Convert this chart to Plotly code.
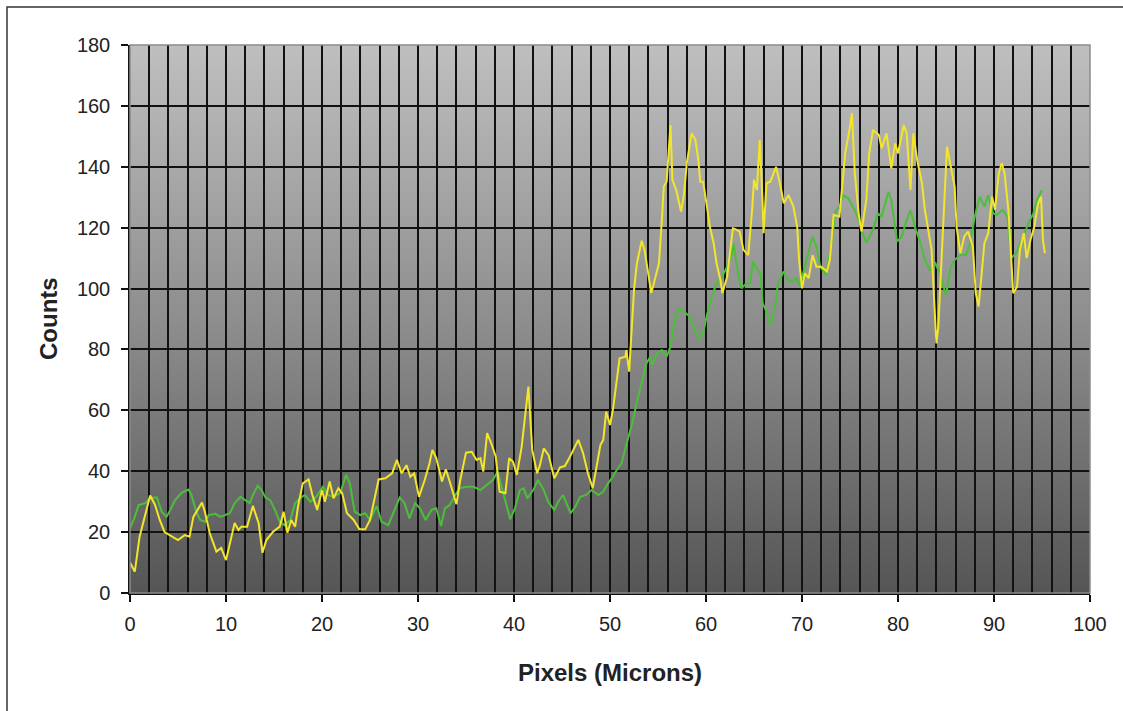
import base64
import plotly.graph_objects as go

# ---------------- data ----------------
yellow_x = [0.0, 0.5, 1.0, 1.6, 2.1, 2.6, 3.1, 3.6, 4.5, 5.0, 5.7, 6.2, 6.6, 7.5, 7.8, 8.3, 9.0, 9.5, 10.0,
            10.4, 10.9, 11.3, 11.6, 12.2, 12.8, 13.4, 13.8, 14.2, 14.9, 15.6, 16.0, 16.4, 16.8, 17.2, 17.5,
            18.0, 18.6, 19.0, 19.5, 20.0, 20.3, 20.8, 21.2, 21.7, 22.1, 22.6, 23.3, 23.9, 24.5, 25.0, 25.9,
            26.6, 27.3, 27.8, 28.3, 28.8, 29.2, 29.6, 30.1, 30.7, 31.2, 31.5, 31.9, 32.5, 32.9, 33.3, 34.0,
            34.4, 35.0, 35.6, 36.1, 36.5, 36.8, 37.2, 37.7, 38.1, 38.5, 39.1, 39.5, 39.9, 40.3, 40.8, 41.1,
            41.5, 41.9, 42.4, 42.7, 43.1, 43.6, 44.2, 44.8, 45.3, 45.8, 46.3, 46.7, 47.2, 47.7, 48.2, 48.6,
            49.0, 49.3, 49.6, 50.0, 50.3, 50.8, 51.0, 51.6, 51.7, 52.0, 52.3, 52.5, 52.8, 53.3, 53.6, 54.0,
            54.3, 54.8, 55.1, 55.4, 55.6, 55.9, 56.1, 56.3, 56.5, 56.9, 57.4, 57.7, 58.0, 58.5, 58.9, 59.2,
            59.4, 59.7, 60.1, 60.4, 60.8, 61.1, 61.5, 61.7, 62.2, 62.5, 62.8, 63.2, 63.5, 63.9, 64.2, 64.4,
            64.8, 65.0, 65.3, 65.6, 65.9, 66.0, 66.3, 66.7, 67.3, 67.7, 68.1, 68.6, 69.1, 69.5, 69.7, 70.0,
            70.3, 70.7, 71.1, 71.5, 72.0, 72.6, 72.9, 73.3, 73.9, 74.5, 75.0, 75.2, 75.5, 75.9, 76.2, 76.7,
            77.0, 77.4, 78.0, 78.3, 78.8, 79.3, 79.7, 80.0, 80.6, 80.9, 81.3, 81.6, 82.0, 82.5, 82.8, 83.2,
            83.5, 83.8, 84.0, 84.2, 84.6, 84.9, 85.1, 85.5, 85.9, 86.1, 86.5, 86.9, 87.3, 87.8, 88.1, 88.4,
            88.7, 89.0, 89.4, 89.8, 90.1, 90.5, 90.8, 91.1, 91.5, 91.8, 92.0, 92.4, 92.7, 93.1, 93.4, 93.8,
            94.2, 94.6, 94.9, 95.1, 95.3]
yellow_y = [10, 7, 18.5, 26, 32, 29, 24, 20, 18.5, 17.4, 19, 18.5, 25, 29.7, 26.7, 19.7, 13.6, 14.8, 10.8,
            16.4, 23, 20.7, 21.8, 21.8, 28.6, 22.9, 13.2, 17.4, 20.1, 21.8, 26.7, 19.8, 24, 21.8, 28.4,
            36, 37.3, 32.2, 27.3, 33.8, 30, 36.6, 31.1, 34.4, 32.8, 26.2, 24, 20.9, 20.9, 24, 37.3,
            37.7, 39.3, 43.7, 39.3, 42, 38.2, 39.3, 31.6, 37.1, 42.6, 47, 44.3, 36.6, 40.6, 36.6, 29.2,
            37.1, 46.1, 46.4, 43.7, 44.3, 39.9, 52.5, 48.6, 44.8, 33.3, 32.8, 44.3, 43.1, 38.8, 48.1, 56.8,
            67.8, 47, 39.3, 42, 47.5, 45.3, 37.7, 41.3, 41.7, 44.6, 47.5, 50.3, 45.9, 39.3, 34.4, 41.3,
            48.6, 50.3, 59.6, 55.2, 60.1, 72.2, 77.1, 77.6, 79.8, 72.7, 87.5, 99.5, 108.3, 115.7, 112.7, 103.9,
            98.5, 104.5, 108.3, 122.5, 133.5, 135.1, 146.6, 153.7, 135.7, 132.4, 125.3, 130.7, 141.2, 151, 148.8, 142.2,
            135.1, 135.1, 126.9, 120.3, 114.9, 108.3, 102.8, 98.5, 103.9, 111.6, 119.8, 119.3, 118.7, 112.7, 111.6, 111,
            125.8, 135.7, 132.4, 148.8, 128, 118.2, 134.6, 135.1, 140, 134.6, 128, 130.7, 126.9, 120.3, 109.4, 100.1,
            105, 103.4, 111, 107.2, 107.2, 105.6, 109.4, 124.2, 123.6, 144.4, 153.2, 157.6, 137.9, 124.7, 118.7, 129.1,
            144.4, 152.1, 150.5, 146.1, 151, 139.5, 147.7, 144.4, 153.7, 151, 132.4, 151, 142.2, 134.6, 125.8, 118.2,
            112.7, 94.1, 82, 87.5, 116, 135.7, 146.6, 140, 133.5, 120.3, 111.6, 117.1, 118.7, 113.8, 98.5, 94.1,
            105, 114.9, 118.2, 130.2, 125.8, 137.9, 141.2, 137.9, 125.8, 107.2, 98.5, 100.6, 112.7, 118.2, 110, 116,
            120.3, 128, 130.2, 116, 111.6]

green_x = [0.0, 0.5, 0.9, 1.6, 2.1, 2.8, 3.3, 3.8, 4.2, 4.7, 5.4, 6.1, 6.4, 6.9, 7.3, 7.8, 8.2, 8.9, 9.4, 9.9,
           10.4, 10.9, 11.5, 12.0, 12.5, 12.8, 13.3, 13.7, 14.1, 14.6, 15.1, 15.6, 16.1, 16.7, 17.2, 17.7,
           18.2, 18.8, 19.4, 20.1, 20.6, 21.2, 21.9, 22.5, 22.9, 23.4, 24.0, 24.5, 25.0, 25.7, 26.2, 26.9,
           27.4, 28.1, 28.6, 29.1, 29.7, 30.2, 30.8, 31.4, 31.9, 32.4, 32.8, 33.3, 33.7, 34.3, 35.1, 35.8,
           36.5, 37.2, 37.8, 38.3, 38.7, 39.2, 39.6, 40.1, 40.6, 41.0, 41.4, 42.0, 42.5, 43.1, 43.6, 44.2,
           44.6, 45.1, 45.5, 45.9, 46.4, 46.9, 47.5, 48.1, 48.8, 49.3, 49.8, 50.2, 50.7, 51.2, 51.6, 52.0,
           52.4, 52.8, 53.3, 53.8, 54.2, 54.4, 54.9, 55.4, 55.9, 56.3, 56.7, 57.1, 57.7, 58.3, 58.9, 59.3,
           59.7, 60.1, 60.6, 61.1, 61.6, 62.2, 62.7, 62.9, 63.1, 63.4, 63.7, 64.2, 64.6, 64.9, 65.3, 65.7,
           65.9, 66.3, 66.7, 67.2, 67.5, 68.1, 68.5, 69.0, 69.4, 69.8, 70.2, 70.7, 71.1, 71.5, 71.9, 72.5,
           72.9, 73.3, 73.5, 74.0, 74.3, 74.8, 75.3, 75.8, 76.2, 76.7, 77.1, 77.4, 77.9, 78.3, 79.0, 79.3,
           79.9, 80.4, 80.9, 81.3, 81.8, 82.3, 82.8, 83.3, 83.9, 84.4, 85.0, 85.5, 85.9, 86.5, 87.1, 87.5,
           88.0, 88.5, 89.0, 89.4, 89.9, 90.3, 90.9, 91.4, 91.8, 92.4, 93.1, 93.6, 94.1, 94.5, 95.0]
green_y = [21.2, 25, 28.9, 29.5, 31.2, 31.4, 26.7, 25, 27.3, 30.5, 33, 34, 32.2, 26.7, 24, 23.4, 25.6, 26, 25, 25.6,
           26.2, 29.5, 31.6, 30.5, 29.5, 32.2, 35.2, 33.8, 31.4, 30.5, 27.3, 23.4, 22.3, 24, 29.5, 31.1,
           32.2, 30, 31.6, 34.9, 32.2, 31.6, 32.8, 38.8, 36, 26.7, 25.6, 26.2, 24, 28.6, 23.4, 22.3,
           26.2, 31.4, 29.5, 24.5, 29.5, 27.8, 24, 27.3, 27.8, 22, 27.8, 28.9, 31.1, 34.4, 34.9, 34.9,
           33.8, 35.5, 37.1, 39.9, 34.9, 29.5, 24.2, 27.8, 33.8, 34.4, 31.1, 33.8, 37.1, 33.8, 29.7, 27.3,
           30, 32.2, 28.9, 26.2, 28.4, 31.6, 32.2, 33.8, 32.2, 33.3, 36, 37.7, 40.4, 42.6, 47.5, 51.9,
           56.8, 62.8, 68.9, 75.5, 77.6, 74.9, 78.7, 79.8, 77.6, 80.9, 88.6, 93.5, 92.4, 90.8, 85.8, 83.7,
           85.3, 91.3, 97.3, 101.7, 103.4, 107.2, 111.6, 114.5, 110, 103.9, 100.1, 101.7, 101.7, 108.8, 106.6, 104.5,
           95.2, 92.4, 87.7, 94.1, 101.7, 105.6, 102.8, 102.3, 103.4, 100.9, 106.1, 112.1, 117.1, 113.8, 107.2, 104.5,
           111.6, 120.3, 125.3, 127.5, 130.7, 129.7, 126.9, 123.6, 119.3, 114.9, 117.6, 119.3, 124.7, 123.6, 131.8, 129.1,
           115.4, 117.1, 122.5, 125.8, 119.8, 115.4, 109.4, 106.1, 108.3, 104.5, 97.9, 107.2, 109.4, 111, 111, 114.9,
           123.6, 130.2, 126.9, 130.7, 124.7, 124.2, 125.8, 123.6, 110, 112.1, 117.6, 121.5, 124.7, 129.1, 132.4]

x_tick_vals = [0, 10, 20, 30, 40, 50, 60, 70, 80, 90, 100]
y_tick_vals = [0, 20, 40, 60, 80, 100, 120, 140, 160, 180]
x_title = "Pixels (Microns)"
y_title = "Counts"

# ---------------- figure ----------------
W, H = 1123, 711
L, R, T, B = 130, 33, 45, 118
PW, PH = W - L - R, H - T - B


def px2paper_x(px):
    return (px - L) / PW


def px2paper_y(py):
    return 1 - (py - T) / PH


fig = go.Figure()
fig.add_trace(go.Scatter(x=green_x, y=green_y, mode="lines",
                         line=dict(color="#4cbf3a", width=2), showlegend=False))
fig.add_trace(go.Scatter(x=yellow_x, y=yellow_y, mode="lines",
                         line=dict(color="#f2e52a", width=2), showlegend=False))

# vertical gradient background via an SVG image (light gray top -> dark gray bottom)
svg = ('<svg xmlns="http://www.w3.org/2000/svg" width="100" height="548" preserveAspectRatio="none">'
       '<defs><linearGradient id="g" x1="0" y1="0" x2="0" y2="1">'
       '<stop offset="0" stop-color="#bfbfbf"/>'
       '<stop offset="0.5" stop-color="#8e8e8e"/>'
       '<stop offset="1" stop-color="#555555"/>'
       '</linearGradient></defs>'
       '<rect x="0" y="0" width="100" height="548" fill="url(#g)"/></svg>')
svg_uri = "data:image/svg+xml;base64," + base64.b64encode(svg.encode()).decode()

shapes = [
    # plot-area border (top/right) in gray
    dict(type="rect", xref="paper", yref="paper", x0=0, x1=1, y0=0, y1=1,
         line=dict(color="#8c8c8c", width=1.5), layer="above"),
    # outer frame
    dict(type="rect", xref="paper", yref="paper",
         x0=px2paper_x(7), x1=px2paper_x(1140),
         y0=px2paper_y(730), y1=px2paper_y(7),
         line=dict(color="#333333", width=1.5), layer="above"),
]

fig.update_layout(
    width=W, height=H,
    margin=dict(l=L, r=R, t=T, b=B, autoexpand=False),
    paper_bgcolor="white", plot_bgcolor="rgba(0,0,0,0)",
    font=dict(family="Liberation Sans, Arial, sans-serif", color="#222222"),
    shapes=shapes,
    images=[dict(source=svg_uri, xref="paper", yref="paper", x=0, y=1, sizex=1, sizey=1,
                 xanchor="left", yanchor="top", sizing="stretch", layer="below")],
    annotations=[
        dict(text=f"<b>{x_title}</b>", xref="paper", yref="paper",
             x=0.5, y=px2paper_y(672), xanchor="center", yanchor="middle", showarrow=False,
             font=dict(size=24, color="#222222")),
        dict(text=f"<b>{y_title}</b>", xref="paper", yref="paper",
             x=px2paper_x(48), y=0.5, xanchor="center", yanchor="middle",
             textangle=-90, showarrow=False,
             font=dict(size=24, color="#222222")),
    ],
)

fig.update_xaxes(range=[0, 100], tickvals=x_tick_vals, ticktext=[str(v) for v in x_tick_vals],
                 showline=True, linecolor="#111111", linewidth=1.5,
                 ticks="outside", ticklen=7, tickcolor="#111111", tickwidth=1.5,
                 ticklabelstandoff=5,
                 tickfont=dict(size=20, color="#222222"),
                 showgrid=True, gridcolor="#111111", gridwidth=1.6,
                 minor=dict(dtick=2, tick0=0, showgrid=True, gridcolor="#111111", gridwidth=1.6),
                 zeroline=False, fixedrange=True)
fig.update_yaxes(range=[0, 180], tickvals=y_tick_vals, ticktext=[str(v) for v in y_tick_vals],
                 showline=True, linecolor="#111111", linewidth=1.5,
                 ticks="outside", ticklen=7, tickcolor="#111111", tickwidth=1.5,
                 ticklabelstandoff=7,
                 tickfont=dict(size=20, color="#222222"),
                 showgrid=True, gridcolor="#111111", gridwidth=1.6,
                 zeroline=False, fixedrange=True)

fig.write_html("out.html", config={"displayModeBar": False},
               post_script="document.body.style.margin='0';")
